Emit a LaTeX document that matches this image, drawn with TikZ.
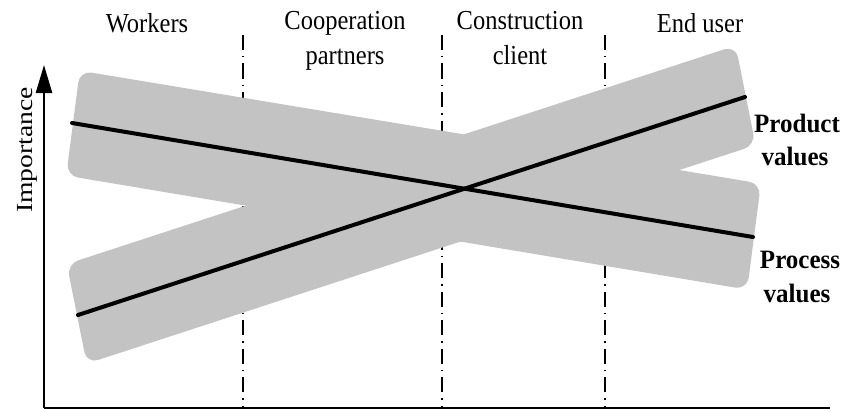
\documentclass[tikz,border=0pt]{standalone}
\usepackage{fontspec}
\usepackage{graphicx}
\setmainfont{Liberation Serif}
\usetikzlibrary{arrows.meta}
\definecolor{bandgray}{RGB}{195,195,195}
\newcommand{\talltext}[1]{\scalebox{1}[1.12]{#1}}
\newcommand{\tallbold}[1]{\scalebox{1}[1.06]{#1}}
\newcommand{\longtext}[1]{\scalebox{1.2}[1]{#1}}
\begin{document}
\begin{tikzpicture}[x=1pt,y=-1pt,
  band/.style={fill=bandgray, rounded corners=12pt},
  valueline/.style={line width=4pt, line cap=round},
  axisline/.style={line width=2.6pt},
  divider/.style={line width=1.3pt, dash pattern=on 15pt off 6pt on 1.5pt off 6pt},
  lbl/.style={font=\fontsize{24.5}{30}\selectfont, anchor=base, inner sep=0pt},
  vlbl/.style={font=\fontsize{25}{30}\selectfont\bfseries, anchor=base, inner sep=0pt}]
\useasboundingbox (0,0) rectangle (843,412);

% coordinates
\coordinate (o) at (44,408);
\coordinate (ytop) at (44,65);
\coordinate (xend) at (830,408);
\coordinate (d1t) at (243,35);  \coordinate (d1b) at (243,408);
\coordinate (d2t) at (442,35);  \coordinate (d2b) at (442,408);
\coordinate (d3t) at (605,35);  \coordinate (d3b) at (605,408);
\coordinate (a1) at (72,123);   \coordinate (b1) at (753,237);
\coordinate (a2) at (78,315);   \coordinate (b2) at (745,97);

% dividers
\draw[divider] (d1t) -- (d1b);
\draw[divider] (d2t) -- (d2b);
\draw[divider] (d3t) -- (d3b);

% bands
\fill[band] (79.8,70.7) -- (66.2,175.6) -- (747.2,289.6) -- (760.9,183.6) -- cycle;
\fill[band] (66.8,264.1) -- (86.7,363.7) -- (755.6,145.1) -- (735.7,45.6) -- cycle;

% value lines
\draw[valueline] (a1) -- (b1);
\draw[valueline] (a2) -- (b2);

% axes
\draw[axisline, -{Triangle[length=28pt,width=16pt]}] (o) -- (ytop);
\draw[axisline] (o) -- (xend);

% labels
\node[lbl] (workers) at (147,33) {\talltext{Workers}};
\node[lbl] (coop1) at (345,30) {\talltext{Cooperation}};
\node[lbl] (coop2) at (345,64) {\talltext{partners}};
\node[lbl] (cons1) at (520,30) {\talltext{Construction}};
\node[lbl] (cons2) at (520,64) {\talltext{client}};
\node[lbl] (enduser) at (700,33) {\talltext{End user}};
\node[lbl, font=\fontsize{23}{28}\selectfont, rotate=90] (importance) at (32,150) {\longtext{Importance}};
\node[vlbl] (prod1) at (797,132) {\tallbold{Product}};
\node[vlbl] (prod2) at (795,165) {\tallbold{values}};
\node[vlbl] (proc1) at (800,268) {\tallbold{Process}};
\node[vlbl] (proc2) at (797,302) {\tallbold{values}};
\end{tikzpicture}
\end{document}
